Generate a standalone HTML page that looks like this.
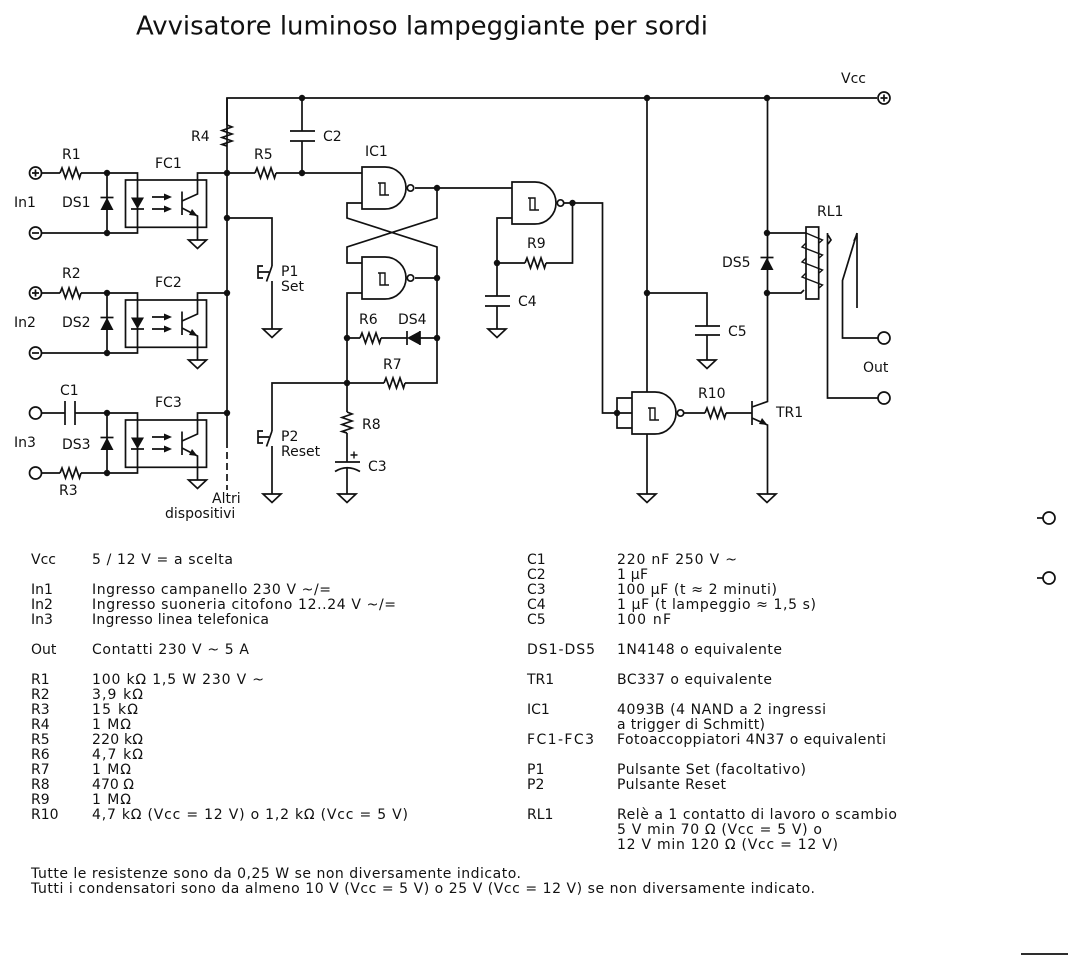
<!DOCTYPE html>
<html><head><meta charset="utf-8"><style>
html,body{margin:0;padding:0;background:#fff}
svg{display:block}
text{font-family:"DejaVu Sans","Liberation Sans",sans-serif;font-size:14px;fill:#111;stroke:none;white-space:pre}
.t{font-size:25.5px}
.w{fill:none;stroke:#111;stroke-width:1.7}
.f{fill:#111;stroke:none}
</style></head><body>
<svg width="1084" height="970" viewBox="0 0 1084 970" xmlns="http://www.w3.org/2000/svg">
<defs>
<path id="r" class="w" d="M0,0 L2,-5 L5.500,5 L9,-5 L12.500,5 L16,-5 L19.500,5 L21,0"/>
<path id="g" class="w" d="M-9,0 H9 L0,8.500 Z"/>
<circle id="j" class="f" r="3.200"/>
<g id="nand">
<path class="w" d="M0,-21 H23 A21,21 0 0 1 23,21 H0 Z"/>
<path class="w" style="stroke-width:1.4" d="M16,-5 H23 V7 H27 M18,-5 V7 H23"/>
<circle class="w" cx="48.500" cy="0" r="3.200"/>
</g>
<g id="dv">
<path class="w" d="M-6.500,0 H6.500"/>
<path class="f" d="M0,0 L6.500,12.500 H-6.500 Z"/>
</g>
<g id="fc">
<path class="w" d="M0,0 H30.500 V60 H0"/>
<rect class="w" x="18.500" y="7" width="81" height="47.300"/>
<path class="f" d="M24,24.500 H37 L30.500,36 Z"/>
<path class="w" d="M24,36 H37"/>
<path class="w" d="M45,24 H62 M45,36 H62"/>
<path class="f" d="M65,24 L57,20.500 V27.500 Z M65,36 L57,32.500 V39.500 Z"/>
<path class="w" d="M75,18.500 V42"/>
<path class="w" d="M75,28 L90.500,21 V0 H120"/>
<path class="w" d="M75,35 L90.500,43 V67"/>
<path class="f" d="M90.500,43 L82,42 L85,36 Z"/>
<use href="#g" x="90.500" y="67"/>
</g>
<g id="sw">
<path class="w" d="M0,0 L-5.500,15.500 M0,15 V63"/>
<path class="w" d="M-9,0 H-14 V12 H-9 M-14,6 H-3"/>
<use href="#g" x="0" y="63"/>
</g>
</defs>

<text class="t" x="136" y="34.500" textLength="572" lengthAdjust="spacingAndGlyphs">Avvisatore luminoso lampeggiante per sordi</text>

<!-- rail -->
<path class="w" d="M227,146 V98 H877"/>
<use href="#j" x="302" y="98"/><use href="#j" x="647" y="98"/><use href="#j" x="767" y="98"/>
<circle class="w" cx="884" cy="98" r="6"/><path class="w" d="M880.500,98 H887.500 M884,94.500 V101.500"/>
<!-- R4 -->
<path class="w" d="M227,98 V125"/>
<use href="#r" transform="translate(227,125) rotate(90)"/>
<path class="w" d="M227,146 V448"/>
<path class="w" d="M227,452 V490" stroke-dasharray="7,4"/>
<use href="#j" x="227" y="173"/><use href="#j" x="227" y="218"/><use href="#j" x="227" y="293"/><use href="#j" x="227" y="413"/>
<!-- R5, C2 -->
<path class="w" d="M227,173 H255 M276,173 H362"/><use href="#r" x="255" y="173"/>
<path class="w" d="M302,98 V131 M290,131 H315 M290,141 H315 M302,141 V173"/><use href="#j" x="302" y="173"/>

<!-- inputs -->
<circle class="w" cx="35.500" cy="173" r="6"/><path class="w" d="M32,173 H39 M35.500,169.500 V176.500"/>
<circle class="w" cx="35.500" cy="233" r="6"/><path class="w" d="M32,233 H39"/>
<path class="w" d="M42,173 H60 M81,173 H107 M42,233 H107 M107,173 V233"/><use href="#r" x="60" y="173"/>
<use href="#j" x="107" y="173"/><use href="#j" x="107" y="233"/><use href="#dv" x="107" y="197.500"/>
<use href="#fc" x="107" y="173"/>

<circle class="w" cx="35.500" cy="293" r="6"/><path class="w" d="M32,293 H39 M35.500,289.500 V296.500"/>
<circle class="w" cx="35.500" cy="353" r="6"/><path class="w" d="M32,353 H39"/>
<path class="w" d="M42,293 H60 M81,293 H107 M42,353 H107 M107,293 V353"/><use href="#r" x="60" y="293"/>
<use href="#j" x="107" y="293"/><use href="#j" x="107" y="353"/><use href="#dv" x="107" y="317.500"/>
<use href="#fc" x="107" y="293"/>

<circle class="w" cx="35.500" cy="413" r="6"/><circle class="w" cx="35.500" cy="473" r="6"/>
<path class="w" d="M42,413 H65 M65,401 V425 M75,401 V425 M75,413 H107 M42,473 H60 M81,473 H107 M107,413 V473"/><use href="#r" x="60" y="473"/>
<use href="#j" x="107" y="413"/><use href="#j" x="107" y="473"/><use href="#dv" x="107" y="437.500"/>
<use href="#fc" x="107" y="413"/>

<!-- P1 / P2 -->
<path class="w" d="M227,218 H272 V266"/>
<use href="#sw" x="272" y="266"/>
<path class="w" d="M347,383 H272 V431"/>
<use href="#sw" x="272" y="431"/>

<!-- latch -->
<use href="#nand" x="362" y="188"/>
<use href="#nand" x="362" y="278"/>
<path class="w" d="M415,188 H512 M437,188 V218 L347,247 V263 H362"/>
<path class="w" d="M362,203 H347 V218 L437,247 V383 H405"/>
<path class="w" d="M415,278 H437"/>
<path class="w" d="M362,293 H347 V412"/>
<use href="#j" x="437" y="188"/><use href="#j" x="437" y="278"/><use href="#j" x="437" y="338"/><use href="#j" x="347" y="338"/><use href="#j" x="347" y="383"/>
<path class="w" d="M347,338 H360 M381,338 H407 M420,338 H437 M407,331 V345"/><use href="#r" x="360" y="338"/>
<path class="f" d="M407,338 L420,331 V345 Z"/><path class="w" d="M420,331 V345"/>
<path class="w" d="M347,383 H384"/><use href="#r" x="384" y="383"/>
<use href="#r" transform="translate(347,412) rotate(90)"/>
<path class="w" d="M347,433 V462 M335,462 H360 M335,471.500 Q347,464 360,471.500 M347,467 V494"/>
<path class="w" d="M354,451.500 V458.500 M350.500,455 H357.500" style="stroke-width:1.4"/>
<use href="#g" x="347" y="494"/>

<!-- oscillator -->
<use href="#nand" x="512" y="203"/>
<path class="w" d="M512,218 H497 V296 M485,296 H510 M485,306 H510 M497,306 V329"/>
<use href="#g" x="497" y="329"/>
<use href="#j" x="497" y="263"/>
<path class="w" d="M497,263 H525 M546,263 H572.500 V203"/><use href="#r" x="525" y="263"/>
<path class="w" d="M564,203 H602.500 V413 H632"/><use href="#j" x="572.500" y="203"/>

<!-- gate 4 -->
<path class="w" d="M647,98 V392 M647,434 V494"/>
<use href="#g" x="647" y="494"/>
<use href="#nand" x="632" y="413"/>
<path class="w" d="M632,398 H617 V428 H632"/><use href="#j" x="617" y="413"/>
<use href="#j" x="647" y="293"/>
<path class="w" d="M647,293 H707 V326 M695,326 H720 M695,335 H720 M707,335 V360"/>
<use href="#g" x="707" y="360"/>
<path class="w" d="M684,413 H705 M726,413 H752"/><use href="#r" x="705" y="413"/>
<path class="w" d="M752,401 V425 M752,407 L767.500,401.500 V98 M752,418 L767.500,425 V494"/>
<path class="f" d="M767.500,425 L759,424 L762,418 Z"/>
<use href="#g" x="767" y="494"/>

<!-- relay -->
<use href="#j" x="767" y="233"/><use href="#j" x="767" y="293"/>
<use href="#dv" x="767" y="257.500"/>
<path class="w" d="M767,233 H806 M767,293 H801 L804,290"/>
<rect class="w" x="806" y="227" width="12.700" height="72"/>
<path class="w" d="M806,233 L822.500,240 L819,243 M806,243 L802,247 L822.500,255 L819,258 M806,258 L802,262 L822.500,270 L819,273 M806,273 L802,277 L822.500,285 L819,288" style="stroke-width:1.4"/>
<path class="w" d="M827.500,233 V398 H878 M828,235 L831,240 L828,244"/>
<circle class="w" cx="884" cy="398" r="6"/>
<path class="w" d="M857,233 V308 M857,233 L842.500,280.500 V338 H878 M854,241 L857,234"/>
<circle class="w" cx="884" cy="338" r="6"/>

<!-- strays -->
<circle class="w" cx="1049" cy="518" r="6"/><path class="w" d="M1037,518 H1043"/>
<circle class="w" cx="1049" cy="578" r="6"/><path class="w" d="M1037,578 H1043"/>
<path class="w" d="M1021,954 H1068"/>

<!-- labels -->
<text x="62" y="159">R1</text><text x="62" y="207">DS1</text><text x="14" y="207">In1</text><text x="155" y="168">FC1</text>
<text x="191" y="141">R4</text><text x="254" y="159">R5</text>
<text x="62" y="278">R2</text><text x="62" y="327">DS2</text><text x="14" y="327">In2</text><text x="155" y="287">FC2</text>
<text x="60" y="395">C1</text><text x="62" y="449">DS3</text><text x="14" y="447">In3</text><text x="155" y="407">FC3</text><text x="59" y="495">R3</text>
<text x="212" y="503">Altri</text><text x="165" y="518">dispositivi</text>
<text x="323" y="141">C2</text><text x="365" y="156">IC1</text>
<text x="281" y="276">P1</text><text x="281" y="291">Set</text><text x="281" y="441">P2</text><text x="281" y="456">Reset</text>
<text x="527" y="248">R9</text><text x="518" y="306">C4</text>
<text x="359" y="324">R6</text><text x="398" y="324">DS4</text><text x="383" y="369">R7</text><text x="362" y="429">R8</text><text x="368" y="471">C3</text>
<text x="722" y="267">DS5</text><text x="817" y="216">RL1</text><text x="728" y="336">C5</text><text x="863" y="372">Out</text><text x="698" y="398">R10</text><text x="776" y="417">TR1</text><text x="841" y="83">Vcc</text>

<!-- left table -->
<text x="31" y="564">Vcc</text><text x="92" y="564" textLength="141">5 / 12 V = a scelta</text>
<text x="31" y="594">In1</text><text x="92" y="594" textLength="239">Ingresso campanello 230 V ~/=</text>
<text x="31" y="609">In2</text><text x="92" y="609" textLength="304">Ingresso suoneria citofono 12..24 V ~/=</text>
<text x="31" y="624">In3</text><text x="92" y="624" textLength="177">Ingresso linea telefonica</text>
<text x="31" y="654">Out</text><text x="92" y="654" textLength="157">Contatti 230 V ~ 5 A</text>
<text x="31" y="684">R1</text><text x="92" y="684" textLength="172">100 kΩ 1,5 W 230 V ~</text>
<text x="31" y="699">R2</text><text x="92" y="699" textLength="51">3,9 kΩ</text>
<text x="31" y="714">R3</text><text x="92" y="714" textLength="46">15 kΩ</text>
<text x="31" y="729">R4</text><text x="92" y="729" textLength="39">1 MΩ</text>
<text x="31" y="744">R5</text><text x="92" y="744" textLength="51">220 kΩ</text>
<text x="31" y="759">R6</text><text x="92" y="759" textLength="51">4,7 kΩ</text>
<text x="31" y="774">R7</text><text x="92" y="774" textLength="39">1 MΩ</text>
<text x="31" y="789">R8</text><text x="92" y="789" textLength="42">470 Ω</text>
<text x="31" y="804">R9</text><text x="92" y="804" textLength="39">1 MΩ</text>
<text x="31" y="819">R10</text><text x="92" y="819" textLength="316">4,7 kΩ (Vcc = 12 V) o 1,2 kΩ (Vcc = 5 V)</text>

<!-- right table -->
<text x="527" y="564">C1</text><text x="617" y="564" textLength="120">220 nF 250 V ~</text>
<text x="527" y="579">C2</text><text x="617" y="579" textLength="31">1 µF</text>
<text x="527" y="594">C3</text><text x="617" y="594" textLength="160">100 µF (t ≈ 2 minuti)</text>
<text x="527" y="609">C4</text><text x="617" y="609" textLength="199">1 µF (t lampeggio ≈ 1,5 s)</text>
<text x="527" y="624">C5</text><text x="617" y="624" textLength="54">100 nF</text>
<text x="527" y="654" textLength="68">DS1-DS5</text><text x="617" y="654" textLength="165">1N4148 o equivalente</text>
<text x="527" y="684">TR1</text><text x="617" y="684" textLength="155">BC337 o equivalente</text>
<text x="527" y="714">IC1</text><text x="617" y="714" textLength="209">4093B (4 NAND a 2 ingressi</text>
<text x="617" y="729" textLength="148">a trigger di Schmitt)</text>
<text x="527" y="744" textLength="67">FC1-FC3</text><text x="617" y="744" textLength="269">Fotoaccoppiatori 4N37 o equivalenti</text>
<text x="527" y="774">P1</text><text x="617" y="774" textLength="189">Pulsante Set (facoltativo)</text>
<text x="527" y="789">P2</text><text x="617" y="789" textLength="109">Pulsante Reset</text>
<text x="527" y="819">RL1</text><text x="617" y="819" textLength="280">Relè a 1 contatto di lavoro o scambio</text>
<text x="617" y="834" textLength="205">5 V min 70 Ω (Vcc = 5 V) o</text>
<text x="617" y="849" textLength="221">12 V min 120 Ω (Vcc = 12 V)</text>

<text x="31" y="878" textLength="490">Tutte le resistenze sono da 0,25 W se non diversamente indicato.</text>
<text x="31" y="893" textLength="784">Tutti i condensatori sono da almeno 10 V (Vcc = 5 V) o 25 V (Vcc = 12 V) se non diversamente indicato.</text>
</svg>
</body></html>
